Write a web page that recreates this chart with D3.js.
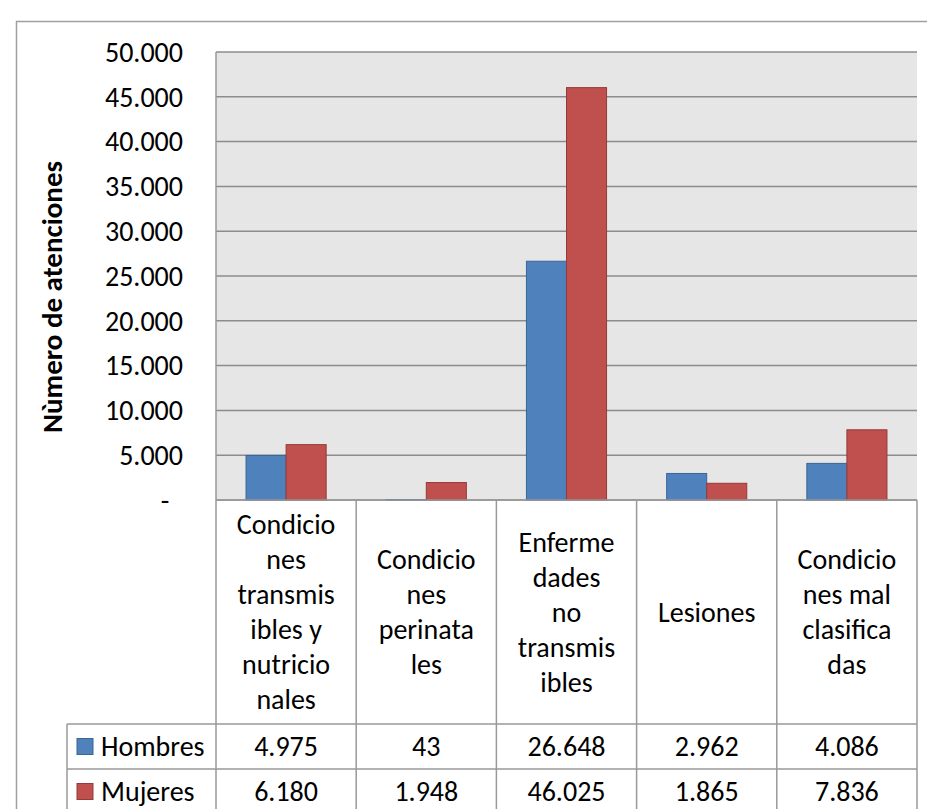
<!DOCTYPE html>
<html><head><meta charset="utf-8">
<script src="https://cdn.jsdelivr.net/npm/d3@7"></script>
<style>
html,body{margin:0;padding:0;background:#fff;}
svg{display:block;}
text{font-family:Calibri, Carlito, Lato, sans-serif;fill:#000;}
</style></head>
<body>
<script>
const categories = ["Condiciones transmisibles y nutricionales","Condiciones perinatales","Enfermedades no transmisibles","Lesiones","Condiciones mal clasificadas"];
const categoryLines = [
  ["Condicio","nes","transmis","ibles y","nutricio","nales"],
  ["Condicio","nes","perinata","les"],
  ["Enferme","dades","no","transmis","ibles"],
  ["Lesiones"],
  ["Condicio","nes mal","clasifica","das"]
];
const seriesNames = ["Hombres","Mujeres"];
const hombres = [4975, 43, 26648, 2962, 4086];
const mujeres = [6180, 1948, 46025, 1865, 7836];
const yTicks = [0,5000,10000,15000,20000,25000,30000,35000,40000,45000,50000];
const yTitle = "Nùmero de atenciones";

const W = 927, H = 809;
const colors = {Hombres:"#4F81BD", Mujeres:"#C0504D"};
const strokes = {Hombres:"#3A6595", Mujeres:"#953A38"};
const series = [hombres, mujeres];
const FS = "28px";

const svg = d3.select("body").append("svg").attr("width",W).attr("height",H);

const plot = {left:216, right:917, top:52, bottom:500};
const rowTops = [724, 769, 814];
const legendLeft = 67;

const loc = d3.formatLocale({decimal:",", thousands:".", grouping:[3], currency:["",""]});
const fmt = loc.format(",.0f");

const x0 = d3.scaleBand().domain(categories).range([plot.left, plot.right]).padding(0);
const x1 = d3.scaleBand().domain(seriesNames).range([0, x0.bandwidth()]).paddingInner(0).paddingOuter(0.75);
const y = d3.scaleLinear().domain([0,50000]).range([plot.bottom, plot.top]);

// outer border
svg.append("rect").attr("x",16.5).attr("y",21.5).attr("width",1000).attr("height",1000)
  .attr("fill","none").attr("stroke","#a0a0a0").attr("stroke-width",1.5);

// plot background
svg.append("rect").attr("x",plot.left).attr("y",plot.top).attr("width",plot.right-plot.left).attr("height",plot.bottom-plot.top).attr("fill","#e6e6e6");

// gridlines
svg.append("g").selectAll("line").data(yTicks).join("line")
  .attr("x1",plot.left).attr("x2",plot.right)
  .attr("y1",d=>y(d)).attr("y2",d=>y(d))
  .attr("stroke","#8c8c8c").attr("stroke-width",1.5);

// y tick labels
svg.append("g").selectAll("text").data(yTicks).join("text")
  .attr("x",d=> d===0 ? 165 : 183)
  .attr("y",d=>y(d))
  .attr("dy","0.35em")
  .attr("text-anchor",d=> d===0 ? "middle" : "end")
  .style("font-size",FS)
  .text(d=> d===0 ? "-" : fmt(d));

// y title
svg.append("text").attr("transform",`translate(62,${(plot.top+plot.bottom)/2+21}) rotate(-90)`)
  .attr("text-anchor","middle").style("font-size","29px").style("font-weight","bold").text(yTitle);

// bars
const gCat = svg.append("g").selectAll("g").data(categories).join("g")
  .attr("transform",d=>`translate(${x0(d)},0)`);
gCat.selectAll("rect").data((d,i)=>seriesNames.map((s,j)=>({s, v:series[j][i]}))).join("rect")
  .attr("x",d=>x1(d.s)).attr("width",x1.bandwidth())
  .attr("y",d=>y(d.v)).attr("height",d=>y(0)-y(d.v))
  .attr("fill",d=>colors[d.s]).attr("stroke",d=>strokes[d.s]).attr("stroke-width",1);

// table lines
const tl = svg.append("g").attr("stroke","#999").attr("stroke-width",1.5);
tl.append("line").attr("x1",plot.left).attr("x2",plot.left).attr("y1",plot.top).attr("y2",H+10);
categories.forEach(c=>{
  const xr = x0(c)+x0.bandwidth();
  tl.append("line").attr("x1",xr).attr("x2",xr).attr("y1",plot.bottom).attr("y2",H+10);
});
tl.append("line").attr("x1",plot.left).attr("x2",plot.right).attr("y1",plot.bottom).attr("y2",plot.bottom);
rowTops.forEach(r=>{
  tl.append("line").attr("x1",legendLeft).attr("x2",plot.right).attr("y1",r).attr("y2",r);
});
tl.append("line").attr("x1",legendLeft).attr("x2",legendLeft).attr("y1",rowTops[0]).attr("y2",H+10);

// category labels
const lineH = 35;
const cellMid = (plot.bottom + rowTops[0])/2;
categories.forEach((c,i)=>{
  const lines = categoryLines[i];
  const cx = x0(c)+x0.bandwidth()/2;
  const t = svg.append("text").attr("text-anchor","middle").style("font-size",FS);
  lines.forEach((ln,k)=>{
    t.append("tspan").attr("x",cx).attr("y",cellMid + (k-(lines.length-1)/2)*lineH).attr("dy","0.35em").text(ln);
  });
});

// legend + values rows
seriesNames.forEach((s,j)=>{
  const rmid = (rowTops[j]+rowTops[j+1])/2;
  svg.append("rect").attr("x",77).attr("y",rmid-8).attr("width",16).attr("height",16)
    .attr("fill",colors[s]).attr("stroke",strokes[s]).attr("stroke-width",1);
  svg.append("text").attr("x",101).attr("y",rmid).attr("dy","0.35em").style("font-size",FS).text(s);
  categories.forEach((c,i)=>{
    svg.append("text").attr("x",x0(c)+x0.bandwidth()/2).attr("y",rmid).attr("dy","0.35em")
      .attr("text-anchor","middle").style("font-size",FS).text(fmt(series[j][i]));
  });
});
</script>
</body></html>
